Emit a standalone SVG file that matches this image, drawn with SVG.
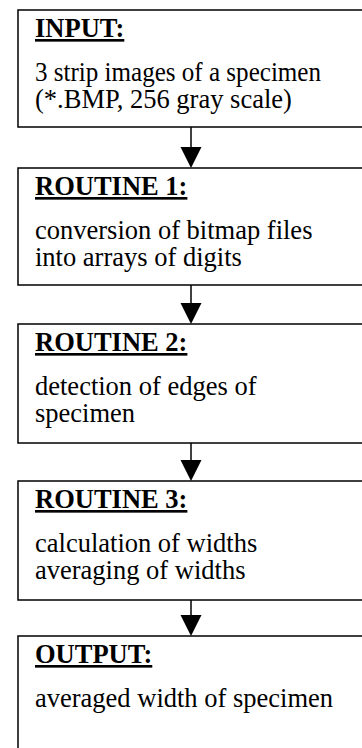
<svg xmlns="http://www.w3.org/2000/svg" width="362" height="748" viewBox="0 0 362 748">
<style>
.box{fill:#fff;stroke:#000;stroke-width:1.5}
.t{font-family:"Liberation Serif","Times New Roman",serif;font-size:26.5px;fill:#000}
.h{font-weight:bold;text-decoration:underline}
.c{stroke:#000;stroke-width:1.5;fill:none}
.ah{fill:#000}
</style>
<rect width="362" height="748" fill="#fff"/>
<g id="connectors">
<line class="c" x1="191" y1="127" x2="191" y2="150"/>
<path class="ah" d="M180.5,147 L201.5,147 L191,168 Z"/>
<line class="c" x1="191" y1="285" x2="191" y2="306"/>
<path class="ah" d="M180.5,303 L201.5,303 L191,324 Z"/>
<line class="c" x1="191" y1="443" x2="191" y2="463"/>
<path class="ah" d="M180.5,460 L201.5,460 L191,481 Z"/>
<line class="c" x1="191" y1="600" x2="191" y2="618"/>
<path class="ah" d="M180.5,615 L201.5,615 L191,636 Z"/>
</g>
<g id="input">
<rect class="box" x="18" y="10" width="380" height="117"/>
<text class="t h" x="35" y="37">INPUT:</text>
<text class="t" x="35" y="81" textLength="286" lengthAdjust="spacingAndGlyphs">3 strip images of a specimen</text>
<text class="t" x="35" y="108">(*.BMP, 256 gray scale)</text>
</g>
<g id="routine1">
<rect class="box" x="18" y="168" width="380" height="117"/>
<text class="t h" x="35" y="195">ROUTINE 1:</text>
<text class="t" x="35" y="239">conversion of bitmap files</text>
<text class="t" x="35" y="266">into arrays of digits</text>
</g>
<g id="routine2">
<rect class="box" x="18" y="324" width="380" height="119"/>
<text class="t h" x="35" y="351">ROUTINE 2:</text>
<text class="t" x="35" y="395">detection of edges of</text>
<text class="t" x="35" y="422">specimen</text>
</g>
<g id="routine3">
<rect class="box" x="18" y="481" width="380" height="119"/>
<text class="t h" x="35" y="508">ROUTINE 3:</text>
<text class="t" x="35" y="552">calculation of widths</text>
<text class="t" x="35" y="579">averaging of widths</text>
</g>
<g id="output">
<rect class="box" x="18" y="636" width="380" height="140"/>
<text class="t h" x="35" y="663">OUTPUT:</text>
<text class="t" x="35" y="707">averaged width of specimen</text>
</g>
</svg>
